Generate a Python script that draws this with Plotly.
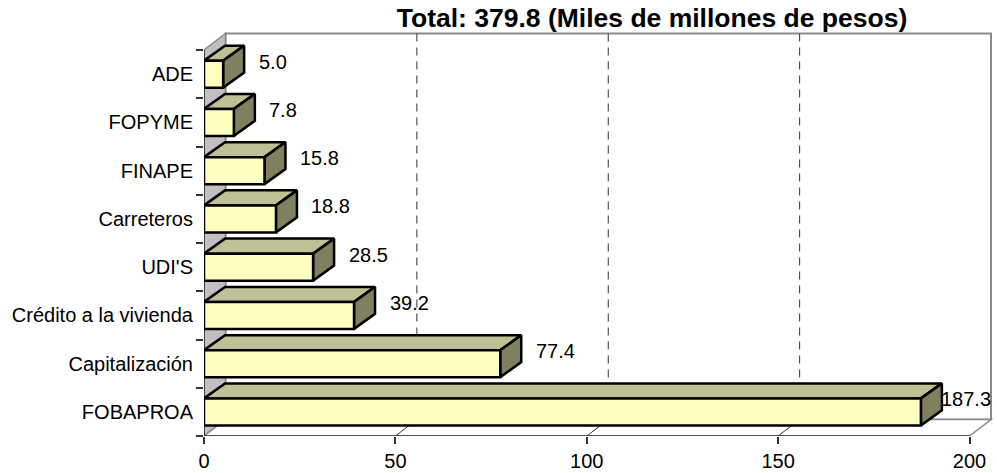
import plotly.graph_objects as go

# ---------------- data ----------------
categories = ["FOBAPROA", "Capitalización", "Crédito a la vivienda", "UDI'S",
              "Carreteros", "FINAPE", "FOPYME", "ADE"]
values = [187.3, 77.4, 39.2, 28.5, 18.8, 15.8, 7.8, 5.0]
x_ticks = [0, 50, 100, 150, 200]
title_text = "Total: 379.8 (Miles de millones de pesos)"

# ---------------- layout geometry ----------------
W, H = 997, 473
ML, MR, MT, MB = 204, 0, 30, 37
X_MAX = 200
px_per_x = 765.5 / X_MAX
px_per_y = 48.25
x_hi = (W - ML - MR) / px_per_x
y_lo = -0.5
y_hi = y_lo + (H - MT - MB) / px_per_y


def ux(px):
    return px / px_per_x


def uy(px):
    return px / px_per_y


n = len(categories)
y_top = n - 0.5
wall_dx, wall_dy = ux(21.5), uy(16.5)
bar_dx, bar_dy = ux(21), uy(15)
half = uy(13.5)

FONT = "Liberation Sans, Arial, sans-serif"
WALL_LINE = "#8a8a8a"

shapes = []
# back wall
shapes.append(dict(type="rect", xref="x", yref="y", layer="below",
                   x0=wall_dx, x1=X_MAX + wall_dx, y0=y_lo + wall_dy, y1=y_top + wall_dy,
                   fillcolor="white", line=dict(color=WALL_LINE, width=2)))
# left wall
shapes.append(dict(type="path", xref="x", yref="y", layer="below",
                   path=f"M 0,{y_lo} L 0,{y_top} L {wall_dx},{y_top + wall_dy} L {wall_dx},{y_lo + wall_dy} Z",
                   fillcolor="#c0c0c0", line=dict(color=WALL_LINE, width=1.5)))
# floor
shapes.append(dict(type="path", xref="x", yref="y", layer="below",
                   path=f"M 0,{y_lo} L {X_MAX},{y_lo} L {X_MAX + wall_dx},{y_lo + wall_dy} L {wall_dx},{y_lo + wall_dy} Z",
                   fillcolor="white", line=dict(color=WALL_LINE, width=1.5)))
# dashed gridlines on the back wall and floor lines
for t in x_ticks[1:-1]:
    shapes.append(dict(type="line", xref="x", yref="y", layer="below",
                       x0=t + wall_dx, x1=t + wall_dx, y0=y_lo + wall_dy, y1=y_top + wall_dy,
                       line=dict(color="#333333", width=1, dash="8px,6px")))
    shapes.append(dict(type="line", xref="x", yref="y", layer="below",
                       x0=t, x1=t + wall_dx, y0=y_lo, y1=y_lo + wall_dy,
                       line=dict(color="#333333", width=1)))
# front axis lines
shapes.append(dict(type="line", xref="x", yref="y", layer="below",
                   x0=0, x1=X_MAX, y0=y_lo, y1=y_lo, line=dict(color="#333333", width=1.5)))
shapes.append(dict(type="line", xref="x", yref="y", layer="below",
                   x0=0, x1=0, y0=y_lo, y1=y_top, line=dict(color="#222222", width=1.5)))

# ---------------- bars (3D faces) ----------------
front_x, front_y, top_x, top_y, side_x, side_y = [], [], [], [], [], []
for i, v in enumerate(values):
    y0, y1 = i - half, i + half
    front_x += [0, v, v, 0, 0, None]
    front_y += [y0, y0, y1, y1, y0, None]
    top_x += [0, v, v + bar_dx, bar_dx, 0, None]
    top_y += [y1, y1, y1 + bar_dy, y1 + bar_dy, y1, None]
    side_x += [v, v + bar_dx, v + bar_dx, v, v, None]
    side_y += [y0, y0 + bar_dy, y1 + bar_dy, y1, y0, None]

fig = go.Figure()
for xs, ys, col in [(top_x, top_y, "#c0c096"), (side_x, side_y, "#80805e"), (front_x, front_y, "#ffffc0")]:
    fig.add_trace(go.Scatter(x=xs, y=ys, mode="lines", fill="toself", fillcolor=col,
                             line=dict(color="black", width=2.5), hoverinfo="skip",
                             showlegend=False))

# ---------------- data labels ----------------
annotations = []
label_size = 20
right_limit_px = W - 4
for i, v in enumerate(values):
    txt = f"{v:.1f}"
    left_px = ML + (v + bar_dx) * px_per_x + 12.5
    est_w = 0.53 * label_size * len(txt)
    if left_px + est_w > right_limit_px:
        ax, anchor = (right_limit_px - ML) / px_per_x, "right"
    else:
        ax, anchor = v + bar_dx + ux(12.5), "left"
    annotations.append(dict(x=ax, y=i + uy(12.5), xref="x", yref="y", text=txt,
                            showarrow=False, xanchor=anchor, yanchor="middle",
                            font=dict(family=FONT, size=label_size, color="black")))

fig.update_layout(
    width=W, height=H,
    margin=dict(l=ML, r=MR, t=MT, b=MB, pad=0),
    paper_bgcolor="white", plot_bgcolor="white",
    shapes=shapes, annotations=annotations,
    title=dict(text=f"<b>{title_text}</b>", xref="container", yref="container",
               x=652 / W, xanchor="center", y=1 - 18 / H, yanchor="middle",
               font=dict(family=FONT, size=26.5, color="black")),
    xaxis=dict(range=[0, x_hi], tickvals=x_ticks, ticks="outside", ticklen=7,
               tickcolor="#333333", tickwidth=1.5, showline=False, showgrid=False,
               zeroline=False, fixedrange=True,
               tickfont=dict(family=FONT, size=20, color="black")),
    yaxis=dict(range=[y_lo, y_hi], tickvals=list(range(n)), ticktext=categories,
               ticks="", showline=False, showgrid=False, zeroline=False,
               ticklabelstandoff=10, fixedrange=True,
               minor=dict(tickvals=[k - 0.5 for k in range(n + 1)], ticks="outside",
                          ticklen=7, tickcolor="#333333", tickwidth=1.5, showgrid=False),
               tickfont=dict(family=FONT, size=20, color="black")),
)

fig.write_html("out.html")
